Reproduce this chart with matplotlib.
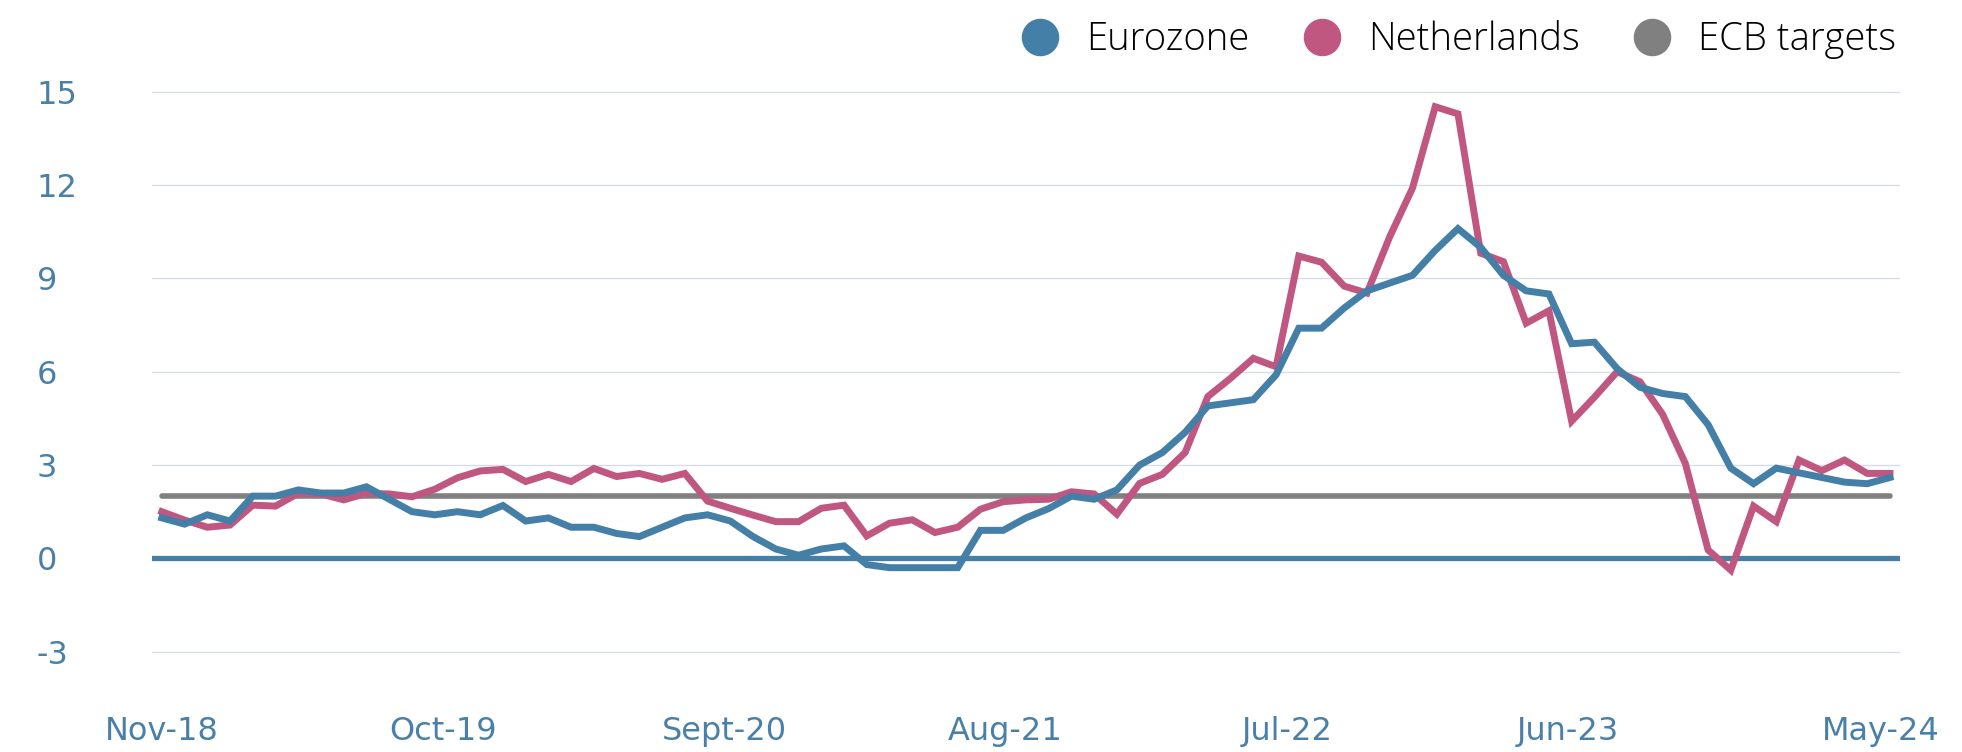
import matplotlib.pyplot as plt
from matplotlib.lines import Line2D

# monthly inflation (%)
eurozone = [1.3, 1.1, 1.4, 1.2, 2.0, 2.0, 2.2, 2.1, 2.1, 2.3, 1.9, 1.5,
            1.4, 1.5, 1.4, 1.7, 1.2, 1.3, 1.0, 1.0, 0.8, 0.7, 1.0, 1.3,
            1.4, 1.2, 0.7, 0.3, 0.1, 0.3, 0.4, -0.2, -0.3, -0.3, -0.3, -0.3,
            0.9, 0.9, 1.3, 1.6, 2.0, 1.9, 2.2, 3.0, 3.4, 4.05, 4.9, 5.0,
            5.1, 5.9, 7.4, 7.4, 8.05, 8.6, 8.85, 9.1, 9.9, 10.6, 10.0, 9.1,
            8.6, 8.5, 6.9, 6.95, 6.1, 5.5, 5.3, 5.2, 4.3, 2.9, 2.4, 2.9,
            2.75, 2.6, 2.45, 2.4, 2.6]
netherlands = [1.5, 1.23, 1.0, 1.07, 1.71, 1.68, 2.09, 2.07, 1.88, 2.09, 2.07, 1.98,
               2.22, 2.59, 2.81, 2.86, 2.47, 2.7, 2.47, 2.89, 2.63, 2.73, 2.54, 2.73,
               1.84, 1.61, 1.39, 1.18, 1.18, 1.61, 1.71, 0.72, 1.13, 1.24, 0.83, 1.0,
               1.58, 1.82, 1.88, 1.9, 2.14, 2.07, 1.42, 2.41, 2.7, 3.4, 5.2, 5.79,
               6.43, 6.16, 9.72, 9.52, 8.75, 8.53, 10.34, 11.9, 14.52, 14.29, 9.81, 9.54,
               7.56, 7.96, 4.41, 5.18, 6.0, 5.68, 4.63, 3.05, 0.27, -0.38, 1.68, 1.18,
               3.16, 2.82, 3.16, 2.73, 2.73]
ecb_target = 2.0

tick_pos = [0, 12.35, 24.72, 37.08, 49.5, 61.85, 75.6]
tick_labels = ["Nov-18", "Oct-19", "Sept-20", "Aug-21", "Jul-22", "Jun-23", "May-24"]
y_ticks = [-3, 0, 3, 6, 9, 12, 15]

blue = "#437fa6"
pink = "#c05781"
gray = "#808080"
label_col = "#4a80a8"

x = list(range(len(eurozone)))

fig = plt.figure(figsize=(19.62, 7.52), dpi=100)
ax = fig.add_axes([0.0775, 0.0714, 0.8909, 0.8479])

for yt in y_ticks:
    if yt != 0:
        ax.axhline(yt, color="#d6dde9", lw=1.0, zorder=1)
ax.axhline(0, color=blue, lw=3.8, zorder=2)

ax.plot([x[0], x[-1]], [ecb_target, ecb_target], color=gray, lw=4.0,
        solid_capstyle="round", zorder=3)
ax.plot(x, netherlands, color=pink, lw=5.0, solid_joinstyle="miter", zorder=4)
ax.plot(x, eurozone, color=blue, lw=5.0, solid_joinstyle="miter", zorder=5)

ax.set_xlim(-0.43, 76.44)
ax.set_ylim(-4.5, 16)

ax.set_xticks(tick_pos)
ax.set_xticklabels(tick_labels)
ax.set_yticks(y_ticks)
ax.set_yticklabels([str(v) for v in y_ticks])
ax.tick_params(axis="x", length=0, pad=13, labelsize=23, labelcolor=label_col)
ax.tick_params(axis="y", length=0, pad=83, labelsize=23, labelcolor=label_col)
for lab in ax.get_yticklabels():
    lab.set_horizontalalignment("left")

for s in ax.spines.values():
    s.set_visible(False)

handles = [Line2D([], [], ls="", marker="o", markersize=26, color=c)
           for c in [blue, pink, gray]]
leg = fig.legend(handles, ["Eurozone", "Netherlands", "ECB targets"],
                 loc="upper right", bbox_to_anchor=(0.984, 1.018), ncol=3,
                 frameon=False, handletextpad=0.2, columnspacing=0.9,
                 prop={"family": "Open Sans", "size": 27.5, "weight": "light"})

fig.savefig("out.png", dpi=100)
